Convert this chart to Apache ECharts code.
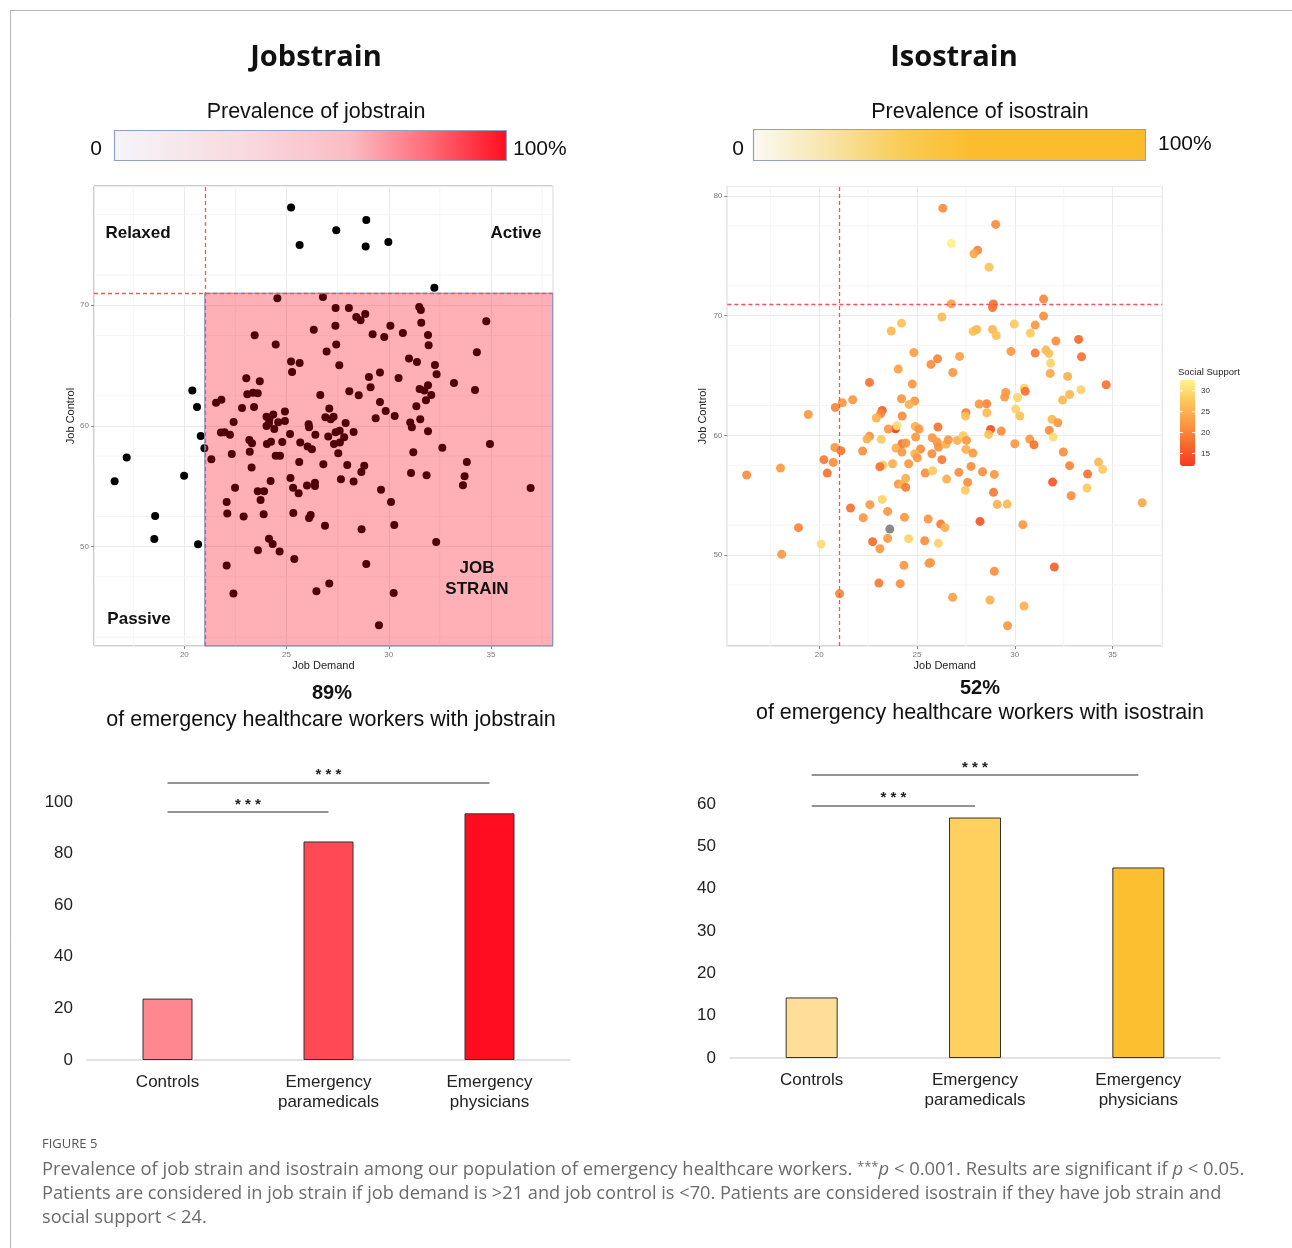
<!DOCTYPE html>
<html><head><meta charset="utf-8">
<script src="https://cdn.jsdelivr.net/npm/echarts/dist/echarts.min.js"></script>
<style>html,body{margin:0;padding:0;background:#fff;}#c{width:1292px;height:1248px;}</style>
</head><body><div id="c"></div>
<script>
// ---------- DATA ----------
// Jobstrain panel: [job demand, job control]
const jobstrainSample = [
[25.22,78.09],[28.90,77.07],[27.43,76.21],[25.64,75.00],[28.87,74.86],[29.98,75.24],[32.23,71.46],
[20.39,62.93],[20.62,61.57],[20.80,59.17],[20.98,58.15],[17.18,57.38],[16.59,55.42],[19.99,55.88],[18.57,52.54],[18.53,50.64],[20.67,50.20],
[24.55,70.58],[26.78,70.69],[27.40,69.78],[28.05,69.78],[31.49,69.86],[31.57,69.61],[28.85,69.28],[28.41,69.03],[28.62,68.75],[31.59,68.56],[34.77,68.67],[27.39,68.31],[30.08,68.31],[26.33,67.98],[23.44,67.51],[29.21,67.59],[29.78,67.37],[30.69,67.70],[31.92,67.54],[27.43,66.74],[24.47,66.74],[31.95,66.68],[26.96,66.16],[34.31,66.10],[30.99,65.58],[31.38,65.30],[25.22,65.33],[25.64,65.22],[32.26,65.05],[27.58,65.03],[25.27,64.47],[32.34,64.28],[29.57,64.42],[29.03,64.06],[30.48,63.97],[33.19,63.56],[23.03,63.95],[23.69,63.70],[29.11,63.20],[31.92,63.37],[34.22,62.98],[23.08,62.62],[23.36,62.76],[23.59,62.71],[26.65,62.57],[28.07,62.87],[28.53,62.54],[31.51,63.07],[31.74,62.93],[32.08,62.57],[31.82,62.13],[29.57,61.99],[21.55,61.93],[21.81,62.18],[22.82,61.49],[23.41,61.57],[27.09,61.44],[31.35,61.63],
[24.92,61.19],[24.02,60.76],[24.16,60.58],[24.35,60.94],[24.14,60.22],[24.02,60.00],[24.59,60.30],[24.92,60.41],[24.40,59.75],
[26.90,60.72],[27.30,60.77],[27.16,60.55],[27.89,60.25],[29.36,60.63],[30.29,60.83],[31.54,60.55],[31.05,60.28],[31.13,59.89],[22.41,60.33],[29.85,61.24],[26.08,60.14],[26.10,59.89],[26.41,59.28],[25.17,59.34],[27.04,59.12],[27.40,59.47],[27.60,59.61],[27.32,58.51],[27.61,58.62],[27.82,59.06],[28.28,59.50],[31.92,59.56],[21.79,59.45],[21.97,59.47],[22.23,59.28],[23.18,58.84],[23.31,58.56],[23.20,57.87],[24.04,58.51],[24.24,58.70],[24.79,58.67],[25.67,58.62],[26.03,58.29],[26.24,58.07],[27.53,57.74],[24.47,57.54],[24.68,57.54],[22.32,57.68],[21.32,57.24],[31.20,57.82],[32.62,58.20],[34.95,58.51],[33.82,57.02],[25.62,57.02],[26.80,56.82],[27.97,56.77],[28.80,56.71],[28.66,56.19],[23.29,56.55],[25.19,55.69],[24.22,55.44],[26.00,55.06],[26.39,55.30],[26.39,55.03],[27.66,55.58],[28.28,55.39],[31.09,56.11],[31.85,55.91],[33.71,55.83],[33.63,55.08],[36.94,54.86],[29.62,54.72],[22.48,54.89],[25.32,54.89],[25.59,54.42],[23.59,54.59],[23.90,54.59],[23.73,53.87],[22.07,53.70],[30.11,53.70],[22.10,52.74],[22.90,52.49],[23.88,52.68],[25.33,52.79],[26.10,52.38],[26.18,52.63],[26.88,51.74],[30.27,51.80],[28.67,51.44],[24.14,50.66],[24.32,50.22],[24.66,49.59],[23.60,49.70],[25.38,48.98],[32.32,50.39],[22.07,48.43],[28.90,48.57],[27.09,46.94],[26.46,46.30],[30.24,46.16],[22.40,46.11],[29.52,43.48]
];
// Isostrain panel: [job demand, job control, social support]
const isostrainSample = [
[26.32,78.99,21],[29.02,77.63,21],[26.75,76.04,32],[28.10,75.48,20],[27.91,75.18,24],[28.68,74.06,27],[26.75,70.99,23],[28.90,70.99,18],[28.86,70.69,18],[31.47,71.39,20],[31.47,69.97,21],[26.27,69.89,26],[24.21,69.38,27],[23.68,68.72,26],[27.87,68.69,27],[28.05,68.85,26],[28.86,68.85,26],[29.05,68.35,27],[29.97,69.30,28],[31.04,69.22,22],[30.79,68.55,28],[33.26,68.02,17],[32.10,67.88,21],[33.41,66.57,18],[31.59,67.13,26],[31.74,66.85,27],[31.83,66.04,29],[31.81,65.18,24],[32.70,64.93,25],[31.04,66.88,19],[29.80,67.02,22],[27.18,66.60,23],[26.05,66.40,20],[25.71,65.93,21],[24.84,66.93,23],[26.83,65.26,22],[24.04,65.54,23],[24.76,64.29,22],[22.57,64.43,18],[34.67,64.23,18],[33.38,63.81,29],[32.80,63.42,26],[32.44,62.95,26],[30.48,63.93,29],[30.53,63.68,18],[29.54,63.59,22],[29.48,63.20,22],[30.14,63.17,29],[30.04,62.20,29],[28.56,62.64,20],[28.18,62.62,22],[24.21,63.06,22],[24.88,62.87,22],[24.60,62.59,25],[21.71,62.98,22],[21.18,62.73,22],[20.82,62.34,20],
[19.44,61.75,22],[23.22,62.09,16],[23.14,61.81,20],[22.92,61.45,25],[24.24,61.62,21],[27.50,61.89,19],[27.48,61.62,27],[28.57,61.89,26],[30.26,61.62,27],[31.90,61.34,26],[32.20,61.06,22],[31.76,60.42,21],[31.96,59.86,30],[30.76,59.69,22],[30.98,59.22,18],[29.31,60.36,21],[28.76,60.50,14],[28.66,60.08,27],[30.00,59.30,22],[32.48,58.61,21],[32.80,57.47,20],[34.28,57.77,26],[34.49,57.16,28],[33.72,56.77,18],[31.93,56.10,15],[32.88,54.96,21],[33.69,55.60,28],[36.51,54.37,24],[27.06,59.58,25],[27.36,59.97,28],[27.53,59.58,22],[27.50,58.83,25],[27.86,58.52,22],[26.07,60.70,18],[24.91,60.75,25],[25.10,60.53,22],[24.93,59.86,22],[25.18,58.86,21],[24.89,58.47,25],[25.01,58.13,22],[25.78,59.80,22],[26.03,59.44,22],[26.10,59.02,21],[26.48,59.27,25],[26.60,59.64,22],[25.76,58.47,21],[26.27,57.97,19],[23.90,60.56,12],[23.97,60.81,30],[23.53,60.53,22],[22.57,59.92,21],[22.44,59.69,25],[23.17,59.67,28],[24.23,59.30,18],[24.43,59.36,22],[23.92,58.94,25],[24.23,58.61,22],[22.22,58.69,21],[20.80,58.99,22],[21.11,58.72,19],[20.24,57.97,19],[20.72,57.74,21],[20.41,56.85,18],[18.02,57.27,22],[16.29,56.69,21],[18.94,52.29,20],[18.08,50.06,22],[20.10,50.92,30],[21.60,53.93,18],[22.59,54.21,22],[22.25,53.12,22],[23.22,54.65,29],[23.50,53.65,22],[23.50,51.39,22],[22.73,51.12,17],[23.10,50.53,22],[23.26,57.52,28],[23.10,57.38,18],[23.75,57.63,25],[24.57,57.63,22],[25.42,56.85,21],[25.80,57.05,28],[24.04,55.93,22],[24.23,55.91,25],[24.42,55.66,19],[24.42,56.41,25],[26.51,56.35,25],[27.14,56.91,21],[27.76,57.41,21],[27.59,56.07,21],[27.47,55.41,28],[28.35,56.96,21],[28.95,56.74,22],[28.91,55.24,19],[29.10,54.24,25],[29.61,54.26,26],[24.36,53.15,22],[25.57,53.01,22],[26.21,52.59,19],[26.43,52.29,25],[28.22,52.81,15],[30.41,52.54,22],[24.57,51.37,29],[25.39,51.20,21],[26.09,50.98,29],[25.69,49.36,22],[25.61,49.31,22],[24.33,49.14,22],[23.05,47.66,19],[24.14,47.61,21],[21.04,46.77,20],[26.82,46.47,23],[28.73,46.24,25],[28.95,48.64,21],[30.47,45.74,25],[29.63,44.09,22],[32.02,49.00,16]
];
// Point with missing social support (drawn grey)
const isostrainMissingSupport = [[23.61,52.17]];

const demandThreshold = 21;
const controlThreshold = 71;
const supportTicks = [30, 25, 20, 15];
const supportRange = [12, 32.6];

const groupCategories = ['Controls', 'Emergency\nparamedicals', 'Emergency\nphysicians'];
const jobstrainPrevalence = [23.8, 84.7, 95.6];
const isostrainPrevalence = [14.3, 56.8, 45.0];
const jobstrainSig = [[0, 1, 96.1], [0, 2, 107.5]];
const isostrainSig = [[0, 1, 59.6], [0, 2, 66.8]];

// ---------- STYLE ----------
const jobBarColors = ['#FF8890', '#FF4A55', '#FF0D1F'];
const isoBarColors = ['#FFDF97', '#FFD05E', '#FBBF2F'];
const FONT = 'Liberation Sans, Arial, sans-serif';
const CAP = '"Open Sans", sans-serif';

const chart = echarts.init(document.getElementById('c'), null, {renderer: 'canvas'});

function minorValues(min, max) {
  const out = [];
  for (let v = Math.ceil(min / 2.5) * 2.5; v < max; v += 2.5) if (Math.abs(v % 5) > 1e-6) out.push(v);
  return out;
}
function scatterAxes(gi, xmin, xmax, ymin, ymax, yNameGap) {
  const common = {
    gridIndex: gi, type: 'value', nameLocation: 'middle',
    nameTextStyle: {fontSize: 11, color: '#222', fontFamily: FONT},
    axisLine: {show: false},
    axisTick: {show: true, length: 3, lineStyle: {color: '#888'}},
    axisLabel: {fontSize: 8, color: '#7a7a7a', fontFamily: FONT, margin: 5, showMinLabel: false, showMaxLabel: false},
    splitLine: {show: true, lineStyle: {color: '#ebebeb', width: 1}}
  };
  return {
    x: Object.assign({}, common, {min: xmin, max: xmax, name: 'Job Demand', nameGap: 14.5}),
    y: Object.assign({}, common, {min: ymin, max: ymax, name: 'Job Control', nameGap: yNameGap})
  };
}
function gridLineSeries(idx, xr, yr) {
  return {
    type: 'custom', xAxisIndex: idx, yAxisIndex: idx, z: 1, silent: true, data: [[xr[0], yr[0]]],
    renderItem: (params, api) => {
      const cs = params.coordSys; const ch = [];
      minorValues(xr[0], xr[1]).forEach(v => {
        const x = api.coord([v, yr[0]])[0];
        ch.push({type: 'line', shape: {x1: x, y1: cs.y, x2: x, y2: cs.y + cs.height}, style: {stroke: '#f5f5f5', lineWidth: 1}});
      });
      minorValues(yr[0], yr[1]).forEach(v => {
        const y = api.coord([xr[0], v])[1];
        ch.push({type: 'line', shape: {x1: cs.x, y1: y, x2: cs.x + cs.width, y2: y}, style: {stroke: '#f5f5f5', lineWidth: 1}});
      });
      return {type: 'group', children: ch};
    }
  };
}
const thresholdLines = {
  silent: true, symbol: 'none', label: {show: false},
  lineStyle: {type: [4, 3], color: '#FF4F57', width: 1.3},
  data: [{xAxis: demandThreshold}, {yAxis: controlThreshold}]
};

const L = scatterAxes(0, 15.58, 38.02, 41.77, 79.88, 16.5);
const R = scatterAxes(1, 15.30, 37.54, 42.40, 80.80, 18.5);

function barXAxis(gi) {
  return {gridIndex: gi, type: 'category', data: groupCategories,
    axisLine: {lineStyle: {color: '#d9d9d9', width: 1.5}}, axisTick: {show: false},
    axisLabel: {fontSize: 17, color: '#222', fontFamily: FONT, margin: 12, lineHeight: 20, interval: 0}};
}
function barYAxis(gi, max, interval) {
  return {gridIndex: gi, type: 'value', min: 0, max: max, interval: interval,
    axisLine: {show: false}, axisTick: {show: false}, splitLine: {show: false},
    axisLabel: {fontSize: 17, color: '#222', fontFamily: FONT, margin: 14, showMaxLabel: false}};
}
function sigMarkLine(sig) {
  return {
    silent: true, symbol: 'none',
    lineStyle: {type: 'solid', color: '#707070', width: 1.5},
    label: {show: true, formatter: '* * *', position: 'insideMiddleTop', distance: 0, fontSize: 15, fontWeight: 'bold', color: '#222', fontFamily: FONT},
    data: sig.map(s => [{coord: [s[0], s[2]]}, {coord: [s[1], s[2]]}])
  };
}

function txt(x, y, text, font, opts) {
  return {type: 'text', x: x, y: y, z: 100, silent: true,
    style: Object.assign({text: text, font: font, fill: '#111', align: 'center', verticalAlign: 'middle'}, opts || {})};
}

const graphics = [
  {type: 'line', shape: {x1: 10, y1: 10.5, x2: 1292, y2: 10.5}, style: {stroke: '#b5b5b5', lineWidth: 1}},
  {type: 'line', shape: {x1: 10.5, y1: 10, x2: 10.5, y2: 1248}, style: {stroke: '#b5b5b5', lineWidth: 1}},
  txt(316, 58, 'Jobstrain', 'bold 29px ' + CAP),
  txt(954, 58, 'Isostrain', 'bold 29px ' + CAP),
  txt(316, 112, 'Prevalence of jobstrain', '21.5px ' + FONT),
  txt(980, 112, 'Prevalence of isostrain', '21.5px ' + FONT),
  txt(96, 149, '0', '21px ' + FONT),
  txt(513, 149, '100%', '21px ' + FONT, {align: 'left'}),
  txt(738, 149, '0', '21px ' + FONT),
  txt(1158, 144, '100%', '21px ' + FONT, {align: 'left'}),
  {type: 'rect', shape: {x: 114.5, y: 130.5, width: 392, height: 30}, style: {
    fill: new echarts.graphic.LinearGradient(0, 0, 1, 0, [
      {offset: 0, color: '#f5f5fa'}, {offset: 0.35, color: '#f9d8dd'}, {offset: 0.6, color: '#fcbcc4'},
      {offset: 0.8, color: '#ff6b78'}, {offset: 1, color: '#ff0d1f'}]),
    stroke: '#8ea2c4', lineWidth: 1.2}},
  {type: 'rect', shape: {x: 753.5, y: 129.5, width: 392, height: 31}, style: {
    fill: new echarts.graphic.LinearGradient(0, 0, 1, 0, [
      {offset: 0, color: '#fbfaf4'}, {offset: 0.18, color: '#f8e6ae'}, {offset: 0.38, color: '#f9cc55'},
      {offset: 0.55, color: '#fbbd2f'}, {offset: 1, color: '#fbbc2c'}]),
    stroke: '#8ea2c4', lineWidth: 1.2}},
  txt(138, 233, 'Relaxed', 'bold 17px ' + FONT),
  txt(516, 233, 'Active', 'bold 17px ' + FONT),
  txt(139, 619, 'Passive', 'bold 17px ' + FONT),
  txt(477, 568, 'JOB', 'bold 17px ' + FONT),
  txt(477, 589, 'STRAIN', 'bold 17px ' + FONT),
  txt(332, 693, '89%', 'bold 20px ' + FONT),
  txt(331, 720, 'of emergency healthcare workers with jobstrain', '21.5px ' + FONT),
  txt(980, 688, '52%', 'bold 20px ' + FONT),
  txt(980, 713, 'of emergency healthcare workers with isostrain', '21.5px ' + FONT),
  txt(1178, 372, 'Social Support', '9.5px ' + FONT, {align: 'left', fill: '#222'}),
  txt(42, 1144, 'FIGURE 5', '13px ' + CAP, {align: 'left', fill: '#555'}),
  {type: 'text', x: 42, y: 1170, z: 100, silent: true, style: {
    text: '{n|Prevalence of job strain and isostrain among our population of emergency healthcare workers. }{s|***}{i|p}{n| < 0.001. Results are significant if }{i|p}{n| < 0.05.}',
    verticalAlign: 'middle', align: 'left',
    rich: {n: {font: '18.4px ' + CAP, fill: '#6b6b6b'},
           i: {font: 'italic 18.4px ' + CAP, fill: '#6b6b6b'},
           s: {font: '13px ' + CAP, fill: '#6b6b6b', padding: [0, 0, 6, 0]}}}},
  txt(42, 1194, 'Patients are considered in job strain if job demand is >21 and job control is <70. Patients are considered isostrain if they have job strain and', '18.2px ' + CAP, {align: 'left', fill: '#6b6b6b'}),
  txt(42, 1218, 'social support < 24.', '18.2px ' + CAP, {align: 'left', fill: '#6b6b6b'})
];
supportTicks.forEach(t => {
  const y = 380 + (supportRange[1] - t) / (supportRange[1] - supportRange[0]) * 86;
  graphics.push(txt(1201, y, String(t), '8px ' + FONT, {align: 'left', fill: '#333'}));
  graphics.push({type: 'line', silent: true, z: 200, shape: {x1: 1180, y1: y, x2: 1183, y2: y}, style: {stroke: '#fff', lineWidth: 1}});
  graphics.push({type: 'line', silent: true, z: 200, shape: {x1: 1192, y1: y, x2: 1195, y2: y}, style: {stroke: '#fff', lineWidth: 1}});
});

const option = {
  backgroundColor: '#fff',
  animation: false,
  textStyle: {fontFamily: FONT},
  grid: [
    {left: 94, top: 186, width: 458.7, height: 460, show: true, borderColor: '#9a9a9a', borderWidth: 1, backgroundColor: 'transparent'},
    {left: 727.3, top: 186.5, width: 435, height: 459.5, show: true, borderColor: '#9a9a9a', borderWidth: 1, backgroundColor: 'transparent'},
    {left: 87, top: 776.2, width: 483, height: 283.8},
    {left: 730, top: 770.1, width: 490, height: 287.9}
  ],
  xAxis: [L.x, R.x, barXAxis(2), barXAxis(3)],
  yAxis: [L.y, R.y, barYAxis(2, 110, 20), barYAxis(3, 68, 10)],
  visualMap: [{
    type: 'continuous', seriesIndex: 4, dimension: 2, min: supportRange[0], max: supportRange[1],
    inRange: {color: ['#F43A20', '#F76A2D', '#FB9A42', '#FDC55A', '#FFF48E']},
    left: 1180, top: 380, itemWidth: 15, itemHeight: 86, padding: 0, calculable: false, text: null,
    orient: 'vertical', hoverLink: false
  }],
  graphic: graphics,
  series: [
    gridLineSeries(0, [15.58, 38.02], [41.77, 79.88]),
    {type: 'scatter', xAxisIndex: 0, yAxisIndex: 0, z: 2, silent: true, data: jobstrainSample, symbolSize: 8,
     itemStyle: {color: '#000', opacity: 1}, markLine: thresholdLines},
    {type: 'custom', xAxisIndex: 0, yAxisIndex: 0, z: 3, silent: true, data: [[demandThreshold, controlThreshold]],
     renderItem: (params, api) => {
       const cs = params.coordSys;
       const p = api.coord([api.value(0), api.value(1)]);
       return {type: 'rect', shape: {x: p[0], y: p[1], width: cs.x + cs.width - p[0], height: cs.y + cs.height - p[1]},
               style: {fill: 'rgba(255,0,18,0.31)', stroke: '#6f8dca', lineWidth: 1}};
     }},
    gridLineSeries(1, [15.30, 37.54], [42.40, 80.80]),
    {type: 'scatter', xAxisIndex: 1, yAxisIndex: 1, z: 2, silent: true, data: isostrainSample, symbolSize: 9,
     itemStyle: {opacity: 0.92}, markLine: thresholdLines},
    {type: 'scatter', xAxisIndex: 1, yAxisIndex: 1, z: 2, silent: true, data: isostrainMissingSupport, symbolSize: 9,
     itemStyle: {color: '#6b6b6b'}},
    {type: 'bar', xAxisIndex: 2, yAxisIndex: 2, barWidth: 50, clip: false, silent: true,
     data: jobstrainPrevalence.map((v, i) => ({value: v, itemStyle: {color: jobBarColors[i]}})),
     itemStyle: {borderColor: '#333', borderWidth: 1}, markLine: sigMarkLine(jobstrainSig)},
    {type: 'bar', xAxisIndex: 3, yAxisIndex: 3, barWidth: 52, clip: false, silent: true,
     data: isostrainPrevalence.map((v, i) => ({value: v, itemStyle: {color: isoBarColors[i]}})),
     itemStyle: {borderColor: '#333', borderWidth: 1}, markLine: sigMarkLine(isostrainSig)}
  ]
};
chart.setOption(option);
</script>
</body></html>
